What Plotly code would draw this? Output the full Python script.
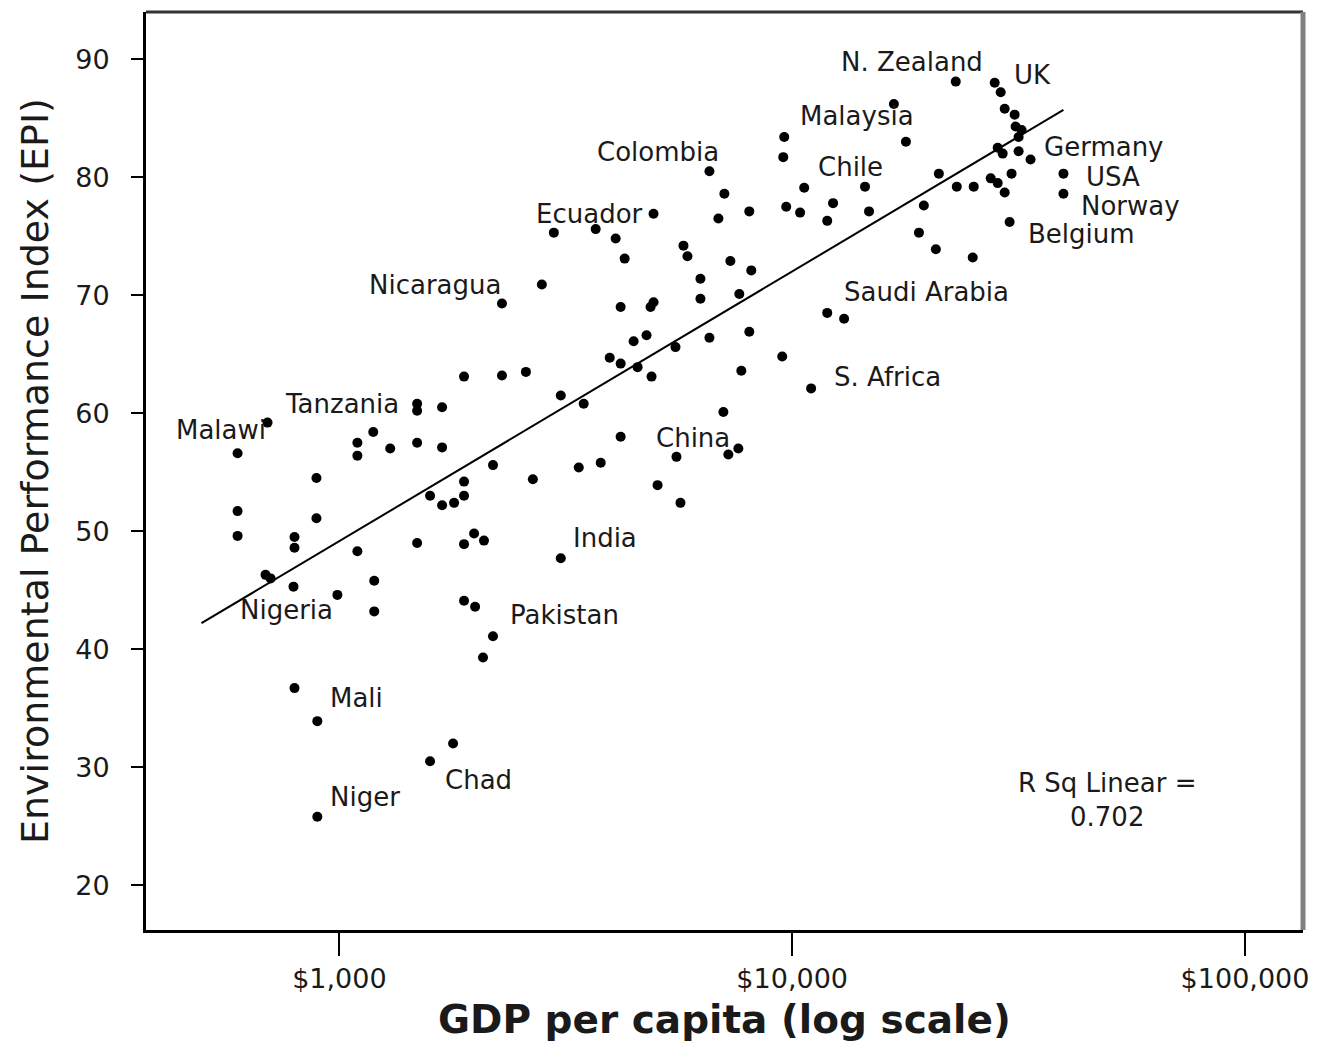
import numpy as np
import plotly.graph_objects as go

# ---- data ----
gdp = [22970, 28000, 28870, 29460, 30990, 31140, 32110, 31620, 28430, 29160,
       31620, 33600, 21080, 23090, 25170, 27440, 28430, 29460, 30510, 39720,
       39720, 30210, 20760, 25040, 16770, 9603, 9555, 17830, 6565, 7083,
       6871, 8040, 4941, 2976, 3682, 4075, 4266, 5753, 5871, 7302,
       8122, 10630, 9701, 10410, 12310, 11950, 14480, 14780, 19530, 19050,
       2800, 6271, 6271, 7643, 4180, 4941, 4866, 11950, 13020, 4465,
       4768, 6565, 8040, 5524, 2286, 3954, 4180, 4556, 4891, 9506,
       7721, 11010, 3083, 3464, 7047, 4180, 7604, 7228, 5552, 3777,
       3378, 5043, 5666, 3083, 1885, 2286, 2582, 1485, 1485, 1686,
       694, 596, 1188, 1096, 1096, 1295, 1485, 1686, 890, 2184,
       2675, 1885, 1586, 1686, 1792, 1885, 596, 890, 596, 796,
       796, 1096, 1485, 1885, 1984, 2086, 687, 705, 792, 990,
       1194, 1194, 1885, 1994, 2184, 2076, 796, 894, 1783, 1586,
       894]
epi = [88.1, 88.0, 87.2, 85.8, 85.3, 84.3, 84.0, 83.4, 82.5, 82.0,
       82.2, 81.5, 80.3, 79.2, 79.2, 79.9, 79.5, 78.7, 80.3, 80.3,
       78.6, 76.2, 73.9, 73.2, 86.2, 83.4, 81.7, 83.0, 80.5, 78.6,
       76.5, 77.1, 76.9, 75.3, 75.6, 74.8, 73.1, 74.2, 73.3, 72.9,
       72.1, 79.1, 77.5, 77.0, 77.8, 76.3, 79.2, 77.1, 77.6, 75.3,
       70.9, 71.4, 69.7, 70.1, 69.0, 69.4, 69.0, 68.5, 68.0, 66.1,
       66.6, 66.4, 66.9, 65.6, 69.3, 64.7, 64.2, 63.9, 63.1, 64.8,
       63.6, 62.1, 61.5, 60.8, 60.1, 58.0, 57.0, 56.5, 56.3, 55.8,
       55.4, 53.9, 52.4, 47.7, 63.1, 63.2, 63.5, 60.8, 60.2, 60.5,
       59.2, 56.6, 58.4, 57.5, 56.4, 57.0, 57.5, 57.1, 54.5, 55.6,
       54.4, 54.2, 53.0, 52.2, 52.4, 53.0, 51.7, 51.1, 49.6, 49.5,
       48.6, 48.3, 49.0, 48.9, 49.8, 49.2, 46.3, 46.0, 45.3, 44.6,
       45.8, 43.2, 44.1, 43.6, 41.1, 39.3, 36.7, 33.9, 32.0, 30.5,
       25.8]

label_names = ["N. Zealand", "UK", "Malaysia", "Colombia", "Chile", "Germany",
               "USA", "Norway", "Belgium", "Ecuador", "Nicaragua",
               "Saudi Arabia", "S. Africa", "Tanzania", "Malawi", "China",
               "India", "Nigeria", "Pakistan", "Mali", "Chad", "Niger"]
label_gdp = [18380, 33950, 13910, 5043, 13420, 48920, 51210, 55810, 43540,
             3572, 1627, 19830, 16270, 1015, 547, 6051, 3854, 764, 3146,
             1090, 2034, 1141]
label_epi = [89.75, 88.7, 85.2, 82.1, 80.85, 82.55, 80.0, 77.55, 75.2,
             76.85, 70.85, 70.25, 63.05, 60.75, 58.55, 57.9, 49.4, 43.3,
             42.9, 35.85, 28.9, 27.45]

fit_gdp = [496, 39720]
fit_epi = [42.2, 85.7]
r_sq = 0.702

x_ticks = [1000, 10000, 100000]
x_tick_labels = ["$1,000", "$10,000", "$100,000"]
y_ticks = [20, 30, 40, 50, 60, 70, 80, 90]

FONT = "DejaVu Sans"
TXT = "#1a1a1a"

fig = go.Figure()
fig.add_trace(go.Scatter(
    x=fit_gdp, y=fit_epi, mode="lines",
    line=dict(color="black", width=2), hoverinfo="skip", showlegend=False))
fig.add_trace(go.Scatter(
    x=gdp, y=epi, mode="markers",
    marker=dict(color="black", size=10, line=dict(width=0)),
    showlegend=False))

annotations = []
for name, gx, ey in zip(label_names, label_gdp, label_epi):
    annotations.append(dict(
        x=float(np.log10(gx)), y=ey, xref="x", yref="y", text=name,
        showarrow=False, xanchor="center", yanchor="middle",
        font=dict(family=FONT, size=26, color=TXT)))

annotations.append(dict(
    x=float(np.log10(49660)), y=27.2, xref="x", yref="y",
    text=f"R Sq Linear =<br>{r_sq:.3f}", showarrow=False,
    xanchor="center", yanchor="middle", align="center",
    font=dict(family=FONT, size=26, color=TXT)))

# axis titles
annotations.append(dict(
    x=0, y=0.5, xref="paper", yref="paper", xshift=-111,
    text="Environmental Performance Index (EPI)", textangle=-90,
    showarrow=False, xanchor="center", yanchor="middle",
    font=dict(family=FONT, size=38, color=TXT)))
annotations.append(dict(
    x=0.5, y=0, xref="paper", yref="paper", yshift=-89,
    text="<b>GDP per capita (log scale)</b>",
    showarrow=False, xanchor="center", yanchor="middle",
    font=dict(family=FONT, size=39, color=TXT)))

# page body has an 8px margin, so the figure is 16px smaller and margins shifted
fig.update_layout(
    width=1305, height=1036,
    margin=dict(l=138, r=7, t=4, b=114),
    paper_bgcolor="white", plot_bgcolor="white",
    annotations=annotations,
    shapes=[
        dict(type="line", xref="paper", yref="paper", x0=0, x1=1, y0=1, y1=1,
             line=dict(color="#333333", width=3)),
        dict(type="line", xref="paper", yref="paper", x0=1, x1=1, y0=0, y1=1,
             line=dict(color="#808080", width=5)),
    ],
)
fig.update_xaxes(
    type="log", range=[2.573, 5.128],
    tickvals=x_ticks, ticktext=x_tick_labels,
    ticks="outside", ticklen=23, tickwidth=2, tickcolor="black",
    showline=True, linecolor="black", linewidth=3,
    showgrid=False, zeroline=False,
    tickfont=dict(family=FONT, size=27, color=TXT))
fig.update_yaxes(
    range=[16.2, 94.0],
    tickvals=y_ticks,
    ticks="outside", ticklen=12, tickwidth=2, tickcolor="black",
    ticklabelstandoff=16,
    showline=True, linecolor="black", linewidth=3,
    showgrid=False, zeroline=False,
    tickfont=dict(family=FONT, size=27, color=TXT))

fig.write_html("out.html")
